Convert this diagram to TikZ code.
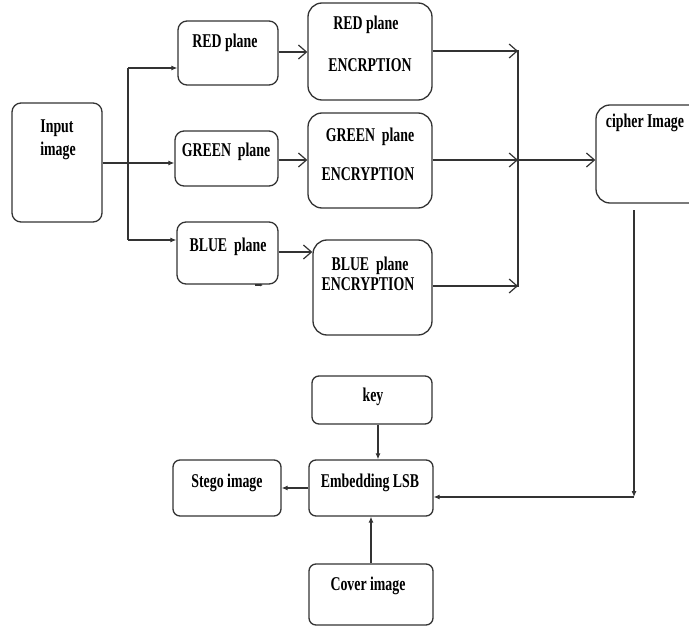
\documentclass[tikz,border=0pt]{standalone}
\usepackage{fontspec}
\newfontfamily\tnr[FakeStretch=0.71]{Liberation Serif}
\usetikzlibrary{arrows.meta}
\definecolor{ln}{HTML}{333333}
\begin{document}
\begin{tikzpicture}[x=1pt,y=-1pt,
  box/.style={draw=ln,line width=1.3pt,rounded corners=9pt,inner sep=0pt},
  txt/.style={font=\tnr\fontsize{19.5}{19.5}\bfseries\selectfont,inner sep=0pt,anchor=base,text=black},
  conn/.style={draw=ln,line width=1.1pt},
  fa/.style={conn,-{Latex[length=6pt,width=5pt]}},
  oa/.style={conn,-{Straight Barb[length=8pt,width=14pt,line width=1.2pt]}}]
\useasboundingbox (0,0) rectangle (689,626);
% boxes
\node[box,minimum width=90pt,minimum height=119pt] (inp) at (57,162.5) {};
\node[box,minimum width=100pt,minimum height=64pt] (redp) at (228,53) {};
\node[box,minimum width=103pt,minimum height=55pt] (greenp) at (226.5,158.5) {};
\node[box,minimum width=101pt,minimum height=62pt] (bluep) at (227.5,253) {};
\node[box,minimum width=124pt,minimum height=97pt,rounded corners=14pt] (rede) at (370,51.5) {};
\node[box,minimum width=124pt,minimum height=95pt,rounded corners=14pt] (greene) at (370,160.5) {};
\node[box,minimum width=119pt,minimum height=95pt,rounded corners=14pt] (bluee) at (372.5,287.5) {};
\node[box,minimum width=124pt,minimum height=98pt,rounded corners=14pt] (ciph) at (658,154) {};
\node[box,minimum width=120pt,minimum height=48pt,rounded corners=7pt] (key) at (372,400) {};
\node[box,minimum width=124pt,minimum height=56pt,rounded corners=7pt] (embed) at (371,488) {};
\node[box,minimum width=108pt,minimum height=56pt,rounded corners=7pt] (stego) at (227,488) {};
\node[box,minimum width=124pt,minimum height=61pt,rounded corners=7pt] (cover) at (371,594.5) {};
% texts
\node[txt] (t1) at (57,132) {Input};
\node[txt] (t2) at (58,156) {image};
\node[txt] (t3) at (225,48) {RED plane};
\node[txt] (t4) at (226,157) {GREEN\ \ plane};
\node[txt] (t5) at (228,251) {BLUE\ \ plane};
\node[txt] (t6) at (366,30) {RED plane};
\node[txt] (t7) at (370,72) {ENCRPTION};
\node[txt] (t8) at (370,142) {GREEN\ \ plane};
\node[txt] (t9) at (368,180) {ENCRYPTION};
\node[txt] (t10) at (370,270) {BLUE\ \ plane};
\node[txt] (t11) at (368,290) {ENCRYPTION};
\node[txt] (t12) at (645,128) {cipher Image};
\node[txt] (t13) at (373,401) {key};
\node[txt] (t14) at (370,487) {Embedding LSB};
\node[txt] (t15) at (227,487) {Stego image};
\node[txt] (t16) at (368,590) {Cover image};
% branch from input
\coordinate (bx) at (128,163);
\draw[conn] (inp.east |- bx) -- (bx);
\draw[conn] (bx |- 0,68) -- (bx |- 0,240);
\draw[fa] (bx |- 0,68) -- (redp.west |- 0,68);
\draw[fa] (bx) -- (greenp.west |- bx);
\draw[fa] (bx |- 0,240) -- (bluep.west |- 0,240);
% tiny stub
\coordinate (s1) at (255,285);
\coordinate (s2) at (263,285);
\draw[conn,-{Latex[length=3pt,width=3pt]}] (s1) -- (s2);
% plane -> encryption
\draw[oa] (redp.east |- 0,52) -- (rede.west |- 0,52);
\draw[oa] (greenp.east |- 0,160) -- (greene.west |- 0,160);
\draw[oa] (bluep.east |- 0,252) -- (bluee.west |- 0,252);
% encryption -> collector
\coordinate (cx) at (518,160);
\draw[oa] (rede.east |- 0,51) -- (cx |- 0,51);
\draw[oa] (greene.east |- cx) -- (cx);
\draw[oa] (bluee.east |- 0,286) -- (cx |- 0,286);
\draw[conn] (cx |- 0,50) -- (cx |- 0,287);
\draw[oa] (cx) -- (ciph.west |- cx);
% cipher -> embedding
\coordinate (c1) at (634,210);
\coordinate (c2) at (634,497);
\draw[fa] (c1) -- (c2);
\draw[fa] (c2) -- (embed.east |- c2);
% key, stego, cover
\draw[fa] ([xshift=6pt]key.south) -- ([xshift=6pt]key.south |- embed.north);
\draw[fa] (embed.west) -- (stego.east);
\draw[fa] (cover.north) -- (embed.south);
\end{tikzpicture}
\end{document}
